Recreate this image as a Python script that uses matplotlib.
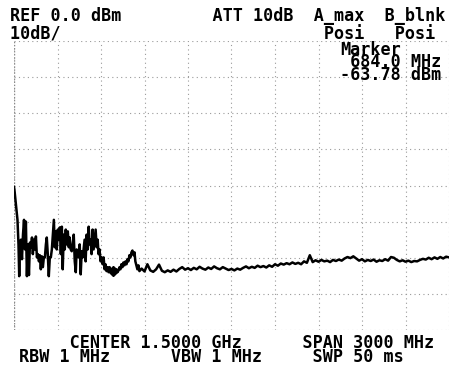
import matplotlib
matplotlib.use("Agg")
import matplotlib.pyplot as plt
import numpy as np

# trace: frequency in MHz, level in dBm
freq_noisy = [0, 3, 10, 17, 24, 31, 36, 41, 48, 55, 62, 69, 76, 82, 89, 96, 103, 110,
              117, 124, 130, 137, 144, 151, 158, 165, 172, 178, 185, 192, 199, 206, 213,
              220, 226, 233, 240, 247, 254, 261, 268, 275, 281, 288, 295, 302, 309, 316,
              323, 330, 336, 343, 350, 357, 364, 371, 378, 384, 391, 398, 405, 412, 419,
              426, 432, 439, 446, 453, 460, 467, 474, 480, 487, 494, 501, 508, 515, 522,
              528, 535, 542, 549, 556, 563, 570, 577, 583, 590, 597, 604, 611, 618, 625,
              631, 638, 645, 652, 659, 666, 673, 679, 686, 693, 700, 707, 714, 721, 728,
              734, 741, 748, 755, 762, 769, 776, 783, 789, 796, 803, 810, 817, 824, 831,
              837, 844, 851, 858, 865]
level_noisy = [-40.4, -41.2, -44.0, -46.7, -49.5, -56.3, -65.1, -56.3, -55.0, -60.4, -53.6,
               -49.5, -57.7, -50.0, -65.1, -56.3, -64.8, -55.8, -57.1, -54.4, -59.0, -55.0,
               -57.7, -54.1, -59.9, -59.0, -61.0, -59.3, -63.2, -59.6, -62.6, -59.9, -59.9,
               -56.3, -54.4, -59.0, -65.1, -59.9, -59.9, -57.7, -53.6, -49.5, -57.1, -52.7,
               -57.7, -52.2, -55.0, -51.6, -59.0, -51.4, -63.2, -53.6, -57.7, -52.2, -56.3,
               -52.7, -57.1, -54.4, -57.7, -58.2, -56.3, -53.6, -61.0, -64.0, -57.7, -59.0,
               -59.9, -56.3, -64.6, -58.2, -59.9, -57.7, -55.0, -61.0, -53.6, -57.7, -51.4,
               -56.3, -55.0, -59.0, -52.2, -57.7, -55.0, -52.2, -57.1, -55.0, -59.0, -57.7,
               -61.0, -59.9, -61.8, -59.9, -63.2, -61.8, -63.7, -62.6, -64.0, -62.6, -63.7,
               -63.2, -63.5, -63.8, -63.2, -63.7, -63.2, -64.0, -63.5, -62.6, -63.2, -61.8,
               -62.6, -61.3, -62.1, -61.0, -61.8, -60.4, -61.0, -59.3, -59.9, -58.5, -58.0,
               -59.3, -58.5, -61.0, -62.1, -63.2, -62.1, -63.7]

freq_flat = list(range(880, 3001, 20))
level_flat = [-63.0, -63.8, -61.8, -63.5, -63.9, -63.2, -61.9, -63.6, -64.0, -63.5,
              -63.9, -63.3, -63.8, -63.1, -62.6, -63.3, -62.9, -63.4, -62.8, -63.2,
              -62.5, -63.0, -63.3, -62.7, -63.1, -62.4, -62.9, -63.2, -62.6, -63.0,
              -63.4, -63.1, -63.5, -63.0, -63.3, -62.8, -62.4, -62.9, -62.5, -62.8,
              -62.2, -62.6, -62.3, -62.7, -62.1, -62.5, -61.8, -62.2, -61.6, -61.9,
              -61.5, -61.8, -61.3, -61.7, -61.4, -61.8, -61.0, -61.4, -59.3, -61.2,
              -60.7, -61.1, -60.6, -61.0, -60.8, -61.2, -60.6, -60.9, -60.5, -60.8,
              -60.2, -59.8, -60.1, -59.6, -60.2, -60.8, -60.4, -61.0, -60.6, -60.9,
              -60.5, -61.1, -60.7, -60.9, -60.4, -60.8, -59.8, -60.0, -60.6, -61.0,
              -60.7, -61.1, -60.8, -61.2, -60.9, -61.0, -60.6, -60.3, -60.5, -60.0,
              -60.4, -59.9, -60.3, -59.8, -60.2, -59.7, -59.9]

marker_freq = 684.0
marker_level = -63.78

# screen annotation, laid out on the analyser's character grid
header_text = ("REF 0.0 dBm         ATT 10dB  A_max  B_blnk\n"
               "10dB/                          Posi   Posi")
marker_text = "Marker\n 684.0 MHz\n-63.78 dBm"
footer_text = ("     CENTER 1.5000 GHz      SPAN 3000 MHz\n"
               "RBW 1 MHz      VBW 1 MHz     SWP 50 ms")

freq = np.array(freq_noisy + freq_flat)
level = np.array(level_noisy + level_flat)

W, H = 449, 368
fig = plt.figure(figsize=(W / 100, H / 100), dpi=100)
fig.patch.set_facecolor('white')

ax = fig.add_axes([14 / W, (H - 330) / H, (W - 14) / W, 289 / H])
ax.set_xlim(0, 3000 * 435 / 437.8)
ax.set_ylim(-80, 0)
ax.set_xticks(np.arange(0, 3001, 300))
ax.set_yticks(np.arange(-80, 1, 10))
ax.grid(True, color='#9a9a9a', linestyle=(0, (1, 3)), linewidth=0.8)
ax.tick_params(length=0, labelbottom=False, labelleft=False)
for s in ax.spines.values():
    s.set_visible(False)
ax.axvline(0, color='#8a8a8a', linestyle=(0, (1, 1.2)), linewidth=1.0)

ax.plot(freq, level, color='black', linewidth=1.8)
ax.plot([marker_freq], [marker_level], marker='D', color='black', markersize=5)

FS = 12.1
asc = 0.76 * FS * 100 / 72  # first-line ascent in pixels

def block(x, y_base, s, ls):
    fig.text(x / W, 1 - (y_base - asc) / H, s, family='DejaVu Sans Mono',
             fontweight='bold', fontsize=FS, color='black', ha='left', va='top',
             linespacing=ls)

block(10, 20, header_text, 1.02)
block(340, 53.5, marker_text, 0.62)
block(19, 347, footer_text, 0.71)

fig.savefig('out.png', dpi=100)
